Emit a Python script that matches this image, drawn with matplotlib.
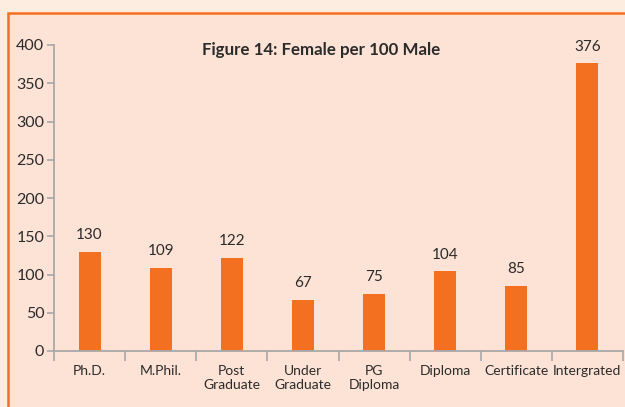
import matplotlib.pyplot as plt
from matplotlib.patches import Rectangle
import numpy as np

# Data
categories = ["Ph.D.", "M.Phil.", "Post\nGraduate", "Under\nGraduate", "PG\nDiploma",
              "Diploma", "Certificate", "Intergrated"]
female_per_100_male = [130, 109, 122, 67, 75, 104, 85, 376]
y_ticks = [0, 50, 100, 150, 200, 250, 300, 350, 400]

plt.rcParams['font.family'] = ['Lato', 'DejaVu Sans']

outer_bg = "#FDEDE0"
inner_bg = "#FDE3D5"
orange = "#F37021"
grey = "#A8A8A8"
text_col = "#2B2B2B"

fig = plt.figure(figsize=(6.25, 4.07), dpi=100)
fig.patch.set_facecolor(outer_bg)

# Frame panel (extends past right and bottom edges)
fig.patches.append(Rectangle((8 / 625, -0.05), 1.1, 1 - 13 / 407 + 0.05,
                             transform=fig.transFigure, facecolor=inner_bg,
                             edgecolor=orange, linewidth=1.8, zorder=-5))

ax = fig.add_axes([54 / 625, 1 - 351 / 407, 569 / 625, 306 / 407])
ax.set_facecolor("none")

x = np.arange(len(categories))
bars = ax.bar(x, female_per_100_male, width=0.31, color=orange, zorder=2)

for xi, v in zip(x, female_per_100_male):
    ax.annotate(str(v), (xi, v), xytext=(0, 7), textcoords="offset points",
                ha="center", va="bottom", fontsize=11, color=text_col)

ax.set_xlim(-0.5, len(categories) - 0.5)
ax.set_ylim(0, 400)
ax.set_yticks(y_ticks)
ax.set_xticks(x)
ax.set_xticklabels(categories, fontsize=10, color=text_col, linespacing=1.25)
ax.set_xticks(np.arange(-0.5, len(categories)), minor=True)
ax.tick_params(axis="x", which="major", length=0, pad=10)
ax.tick_params(axis="x", which="minor", length=7, color=grey, width=1.2)
ax.tick_params(axis="y", length=5, color=grey, width=1.2, labelsize=11.5,
               labelcolor=text_col, pad=2)

for s in ["top", "right"]:
    ax.spines[s].set_visible(False)
for s in ["left", "bottom"]:
    ax.spines[s].set_color(grey)
    ax.spines[s].set_linewidth(1.3)

ax.text(0.47, 0.985, "Figure 14: Female per 100 Male", transform=ax.transAxes,
        ha="center", va="center", fontsize=12.2, fontweight="bold", color=text_col)

plt.savefig("out.png", dpi=100, facecolor=fig.get_facecolor())
